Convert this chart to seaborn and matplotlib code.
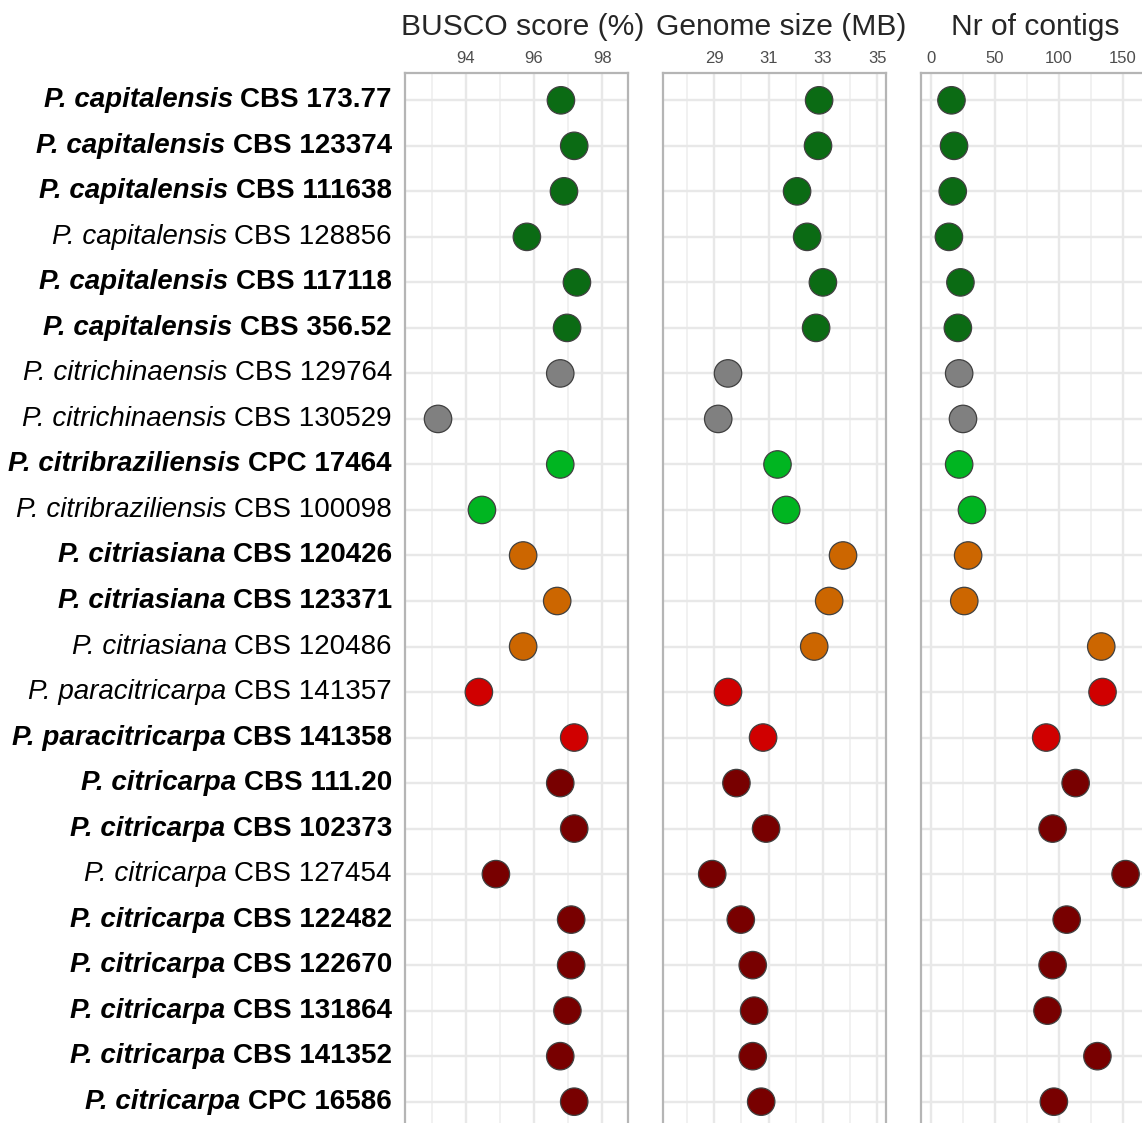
import matplotlib
matplotlib.use("Agg")
import matplotlib.pyplot as plt
from matplotlib.offsetbox import TextArea, HPacker, AnnotationBbox
import seaborn as sns
import pandas as pd

# --- data ---
species = ["P. capitalensis"] * 6 + ["P. citrichinaensis"] * 2 + \
          ["P. citribraziliensis"] * 2 + ["P. citriasiana"] * 3 + \
          ["P. paracitricarpa"] * 2 + ["P. citricarpa"] * 8
strains = ["CBS 173.77", "CBS 123374", "CBS 111638", "CBS 128856", "CBS 117118",
           "CBS 356.52", "CBS 129764", "CBS 130529", "CPC 17464", "CBS 100098",
           "CBS 120426", "CBS 123371", "CBS 120486", "CBS 141357", "CBS 141358",
           "CBS 111.20", "CBS 102373", "CBS 127454", "CBS 122482", "CBS 122670",
           "CBS 131864", "CBS 141352", "CPC 16586"]
bold = [1, 1, 1, 0, 1, 1, 0, 0, 1, 0, 1, 1, 0, 0, 1, 1, 1, 0, 1, 1, 1, 1, 1]
busco = [96.79, 97.18, 96.88, 95.79, 97.26, 96.97, 96.77, 93.18, 96.77, 94.47,
         95.68, 96.68, 95.68, 94.38, 97.18, 96.77, 97.18, 94.88, 97.09, 97.09,
         96.98, 96.77, 97.18]
genome_size = [32.86, 32.82, 32.05, 32.42, 33.0, 32.75, 29.51, 29.15, 31.33, 31.65,
               33.74, 33.23, 32.68, 29.51, 30.8, 29.82, 30.91, 28.93, 29.98, 30.42,
               30.47, 30.42, 30.73]
contigs = [16, 18, 17, 14, 23, 21, 22, 25, 22, 32,
           29, 26, 133, 134, 90, 113, 95, 152, 106, 95,
           91, 130, 96]

busco_ticks = [94, 96, 98]
genome_ticks = [29, 31, 33, 35]
contig_ticks = [0, 50, 100, 150]
busco_minor = [93, 95, 97]
genome_minor = [28, 30, 32, 34]
contig_minor = [25, 75, 125]

species_colors = {
    "P. capitalensis": "#0B6B14",
    "P. citrichinaensis": "#808080",
    "P. citribraziliensis": "#00B521",
    "P. citriasiana": "#CC6600",
    "P. paracitricarpa": "#D00000",
    "P. citricarpa": "#780000",
}

sns.set_theme(style="whitegrid")
plt.rcParams['font.family'] = ['Liberation Sans', 'DejaVu Sans']

df = pd.DataFrame({"species": species, "strain": strains, "busco": busco,
                   "genome_size": genome_size, "contigs": contigs})
df["row"] = range(len(df))

W, H = 1142, 1123
fig = plt.figure(figsize=(W / 100, H / 100), dpi=100)


def add_panel(x0, x1, y0=73, y1=1129):
    return fig.add_axes([x0 / W, 1 - y1 / H, (x1 - x0) / W, (y1 - y0) / H])


panels = [
    ("BUSCO score (%)", "busco", (405, 628), (92.21, 98.76), busco_ticks, busco_minor, 523),
    ("Genome size (MB)", "genome_size", (663, 886), (27.12, 35.32), genome_ticks, genome_minor, 781),
    ("Nr of contigs", "contigs", (921, 1144), (-7.8, 166.4), contig_ticks, contig_minor, 1035),
]

axes = []
for title, col, (x0, x1), lims, ticks, minor, tx in panels:
    ax = add_panel(x0, x1)
    sns.scatterplot(data=df, x=col, y="row", hue="species", palette=species_colors,
                    s=390, edgecolor="#404040", linewidth=0.9, legend=False,
                    ax=ax, zorder=3, clip_on=False)
    ax.set_xlim(*lims)
    ax.set_ylim(len(df) - 0.4, -0.6)
    ax.set_xticks(ticks)
    ax.set_xticks(minor, minor=True)
    ax.set_yticks(df["row"])
    ax.set_yticklabels([])
    ax.xaxis.tick_top()
    ax.tick_params(axis="x", which="both", length=0, pad=5, labelsize=12,
                   labelcolor="#4D4D4D")
    ax.tick_params(axis="y", length=0)
    ax.set_xlabel("")
    ax.set_ylabel("")
    ax.grid(which="major", color="#E8E8E8", linewidth=1.7)
    ax.grid(which="minor", axis="x", color="#EDEDED", linewidth=1.1)
    ax.set_axisbelow(True)
    for sp in ax.spines.values():
        sp.set_visible(True)
        sp.set_color("#B5B5B5")
        sp.set_linewidth(1.6)
    fig.text(tx / W, 1 - 27 / H, title, ha="center", va="center", fontsize=21.6)
    axes.append(ax)

# strain labels: italic species name + strain code, bold for some rows
ax1 = axes[0]
for i, row in df.iterrows():
    w = "bold" if bold[i] else "normal"
    pack = HPacker(children=[
        TextArea(row["species"], textprops=dict(style="italic", weight=w, size=20,
                                                color="black")),
        TextArea(row["strain"], textprops=dict(weight=w, size=20, color="black")),
    ], sep=5.6, pad=0, align="baseline")
    ab = AnnotationBbox(pack, (392 / W, row["row"]), xycoords=("figure fraction", "data"),
                        box_alignment=(1, 0.5), frameon=False, pad=0,
                        annotation_clip=False)
    ax1.add_artist(ab)

fig.savefig("out.png", dpi=100)
